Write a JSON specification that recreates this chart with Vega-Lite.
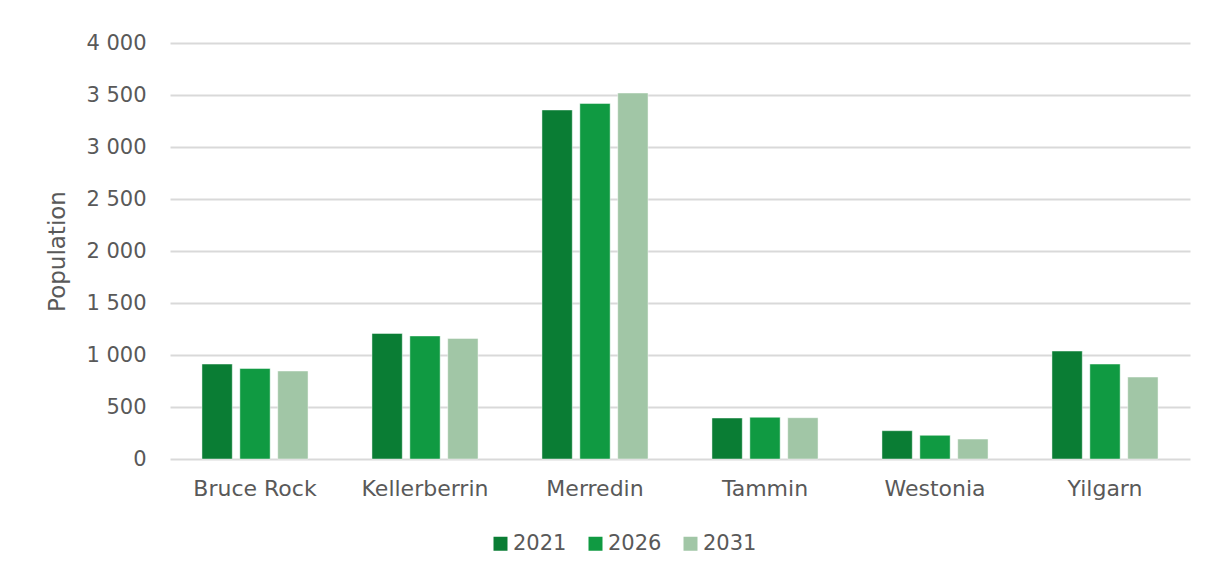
{
  "$schema": "https://vega.github.io/schema/vega-lite/v6.json",
  "width": 1020,
  "height": 416,
  "autosize": {"type": "none"},
  "padding": {"left": 170, "top": 43, "right": 16, "bottom": 115},
  "background": "white",
  "data": {
    "values": [
      {"lga": "Bruce Rock", "year": "2021", "pop": 913},
      {"lga": "Bruce Rock", "year": "2026", "pop": 870},
      {"lga": "Bruce Rock", "year": "2031", "pop": 846},
      {"lga": "Kellerberrin", "year": "2021", "pop": 1207},
      {"lga": "Kellerberrin", "year": "2026", "pop": 1183},
      {"lga": "Kellerberrin", "year": "2031", "pop": 1159},
      {"lga": "Merredin", "year": "2021", "pop": 3356},
      {"lga": "Merredin", "year": "2026", "pop": 3418},
      {"lga": "Merredin", "year": "2031", "pop": 3519},
      {"lga": "Tammin", "year": "2021", "pop": 394},
      {"lga": "Tammin", "year": "2026", "pop": 401},
      {"lga": "Tammin", "year": "2031", "pop": 397},
      {"lga": "Westonia", "year": "2021", "pop": 272},
      {"lga": "Westonia", "year": "2026", "pop": 228},
      {"lga": "Westonia", "year": "2031", "pop": 192},
      {"lga": "Yilgarn", "year": "2021", "pop": 1038},
      {"lga": "Yilgarn", "year": "2026", "pop": 913},
      {"lga": "Yilgarn", "year": "2031", "pop": 788}
    ]
  },
  "mark": {"type": "bar", "stroke": "#ffffff", "strokeWidth": 1, "strokeOpacity": 0.45},
  "encoding": {
    "x": {
      "field": "lga",
      "type": "nominal",
      "sort": null,
      "scale": {"paddingInner": 0.376, "paddingOuter": 0.188},
      "axis": {
        "title": null,
        "labelAngle": 0,
        "labelFont": "DejaVu Sans",
        "labelFontSize": 22,
        "labelColor": "#595959",
        "labelPadding": 19,
        "domain": false,
        "ticks": false
      }
    },
    "xOffset": {
      "field": "year",
      "type": "nominal",
      "scale": {"paddingInner": 0.2, "paddingOuter": 0}
    },
    "y": {
      "field": "pop",
      "type": "quantitative",
      "scale": {"domain": [0, 4000], "nice": false},
      "axis": {
        "title": "Population",
        "values": [0, 500, 1000, 1500, 2000, 2500, 3000, 3500, 4000],
        "labelExpr": "replace(format(datum.value, ','), ',', ' ')",
        "labelFont": "DejaVu Sans",
        "labelFontSize": 21,
        "labelColor": "#595959",
        "labelPadding": 24,
        "titleFont": "DejaVu Sans",
        "titleFontSize": 23,
        "titleFontWeight": "normal",
        "titleColor": "#595959",
        "titlePadding": 16,
        "domain": false,
        "ticks": false,
        "grid": true,
        "gridColor": "#d9d9d9",
        "gridWidth": 2
      }
    },
    "color": {
      "field": "year",
      "type": "nominal",
      "scale": {"domain": ["2021", "2026", "2031"], "range": ["#0a7d34", "#109a42", "#a1c6a6"]},
      "legend": {
        "title": null,
        "orient": "none",
        "direction": "horizontal",
        "legendX": 320,
        "legendY": 490,
        "symbolType": "square",
        "symbolSize": 196,
        "symbolStrokeWidth": 0,
        "labelFont": "DejaVu Sans",
        "labelFontSize": 21,
        "labelColor": "#595959",
        "labelOffset": 2,
        "columnPadding": 18
      }
    }
  },
  "config": {"view": {"stroke": null}}
}
